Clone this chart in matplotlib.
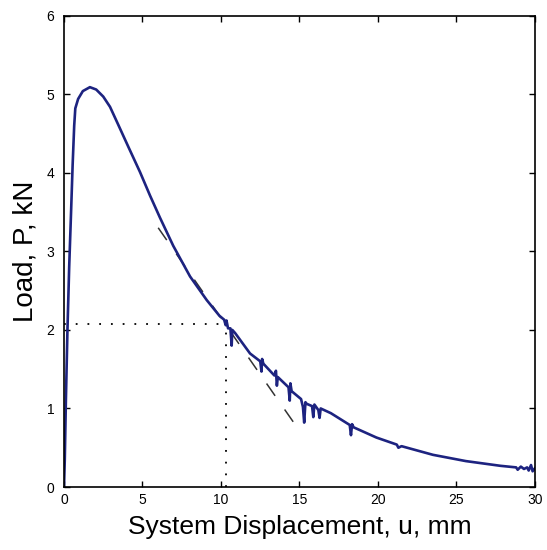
import matplotlib
matplotlib.use('Agg')
import matplotlib.pyplot as plt
import numpy as np

plt.rcParams['font.family'] = ['Liberation Sans', 'DejaVu Sans']

# load-displacement record (mm, kN); spikes written as extra points
disp = [0.0, 0.05, 0.12, 0.22, 0.33, 0.45, 0.55, 0.65, 0.72, 0.9, 1.2, 1.65, 2.05, 2.5,
        2.93, 3.46, 4.1, 4.84, 5.48, 6.11, 6.96, 8.03, 9.09, 9.9, 10.2, 10.3, 10.35, 10.45,
        10.6, 10.68, 10.72, 10.9, 11.85, 12.5, 12.58, 12.62, 12.7, 13.4, 13.5, 13.56, 13.62,
        14.3, 14.38, 14.42, 14.5, 15.1, 15.22, 15.3, 15.38, 15.45, 15.8, 15.88, 15.95, 16.2,
        16.28, 16.35, 17.0, 18.2, 18.28, 18.35, 18.45, 19.9, 21.2, 21.3, 21.5, 23.5, 25.6,
        27.8, 28.8, 28.9, 29.1, 29.3, 29.5, 29.6, 29.75, 29.85, 30.0]
load = [0.0, 0.35, 1.1, 2.0, 2.8, 3.5, 4.1, 4.6, 4.82, 4.94, 5.04, 5.09, 5.06, 4.97,
        4.84, 4.61, 4.33, 4.01, 3.71, 3.43, 3.07, 2.68, 2.38, 2.18, 2.13, 2.06, 2.12, 2.02,
        2.02, 1.80, 2.00, 1.96, 1.70, 1.60, 1.47, 1.63, 1.57, 1.42, 1.48, 1.29, 1.40,
        1.27, 1.10, 1.32, 1.22, 1.12, 1.02, 0.82, 1.08, 1.06, 1.03, 0.89, 1.05, 0.98,
        0.88, 1.00, 0.94, 0.79, 0.66, 0.80, 0.76, 0.63, 0.54, 0.50, 0.52, 0.41, 0.33,
        0.27, 0.25, 0.22, 0.26, 0.23, 0.25, 0.21, 0.28, 0.20, 0.24]

# tangent at the marked point and the guide lines
tan_x = [6.0, 14.6]
tan_y = [3.30, 0.83]
mark_x = 10.3
mark_y = 2.07

fig = plt.figure(figsize=(5.47, 5.50), dpi=100)
ax = fig.add_axes([0.117, 0.1145, 0.861, 0.857])

ax.plot(tan_x, tan_y, color='#333333', lw=1.1, dashes=(9.8, 10.9))
ax.plot([0, mark_x], [mark_y, mark_y], color='black', lw=1.3, dashes=(1, 5.5))
ax.plot([mark_x, mark_x], [0, mark_y], color='black', lw=1.3, dashes=(1, 5.5))
ax.plot(disp, load, color='#1d2380', lw=1.9)

ax.set_xlim(0, 30)
ax.set_ylim(0, 6)
ax.set_xticks([0, 5, 10, 15, 20, 25, 30])
ax.set_yticks([0, 1, 2, 3, 4, 5, 6])
ax.tick_params(direction='in', top=True, right=True, length=4, width=1, labelsize=10)
ax.tick_params(axis='x', pad=4)
ax.tick_params(axis='y', pad=7)
for s in ax.spines.values():
    s.set_linewidth(1.2)

ax.set_xlabel('System Displacement, u, mm', fontsize=19, labelpad=6)
ax.set_ylabel('Load, P, kN', fontsize=20, labelpad=6)

fig.savefig('out.png', dpi=100)
